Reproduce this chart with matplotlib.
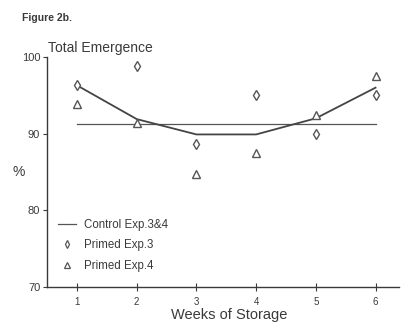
import matplotlib
matplotlib.use("Agg")
import matplotlib.pyplot as plt
from matplotlib.lines import Line2D

plt.rcParams['font.family'] = ['Liberation Sans', 'DejaVu Sans']

# Emergence (%) after each week of storage
weeks = [1, 2, 3, 4, 5, 6]
primed_exp3 = [96.3, 98.8, 88.7, 95.0, 89.9, 95.0]
primed_exp4 = [93.9, 91.4, 84.8, 87.5, 92.4, 97.5]
fitted = [96.3, 91.9, 89.9, 89.9, 92.0, 96.0]
control = 91.2

ink = '#3a3a3a'

fig = plt.figure(figsize=(4.01, 3.23), dpi=100)
ax = fig.add_axes([0.1176, 0.1115, 0.8784, 0.712])

# control level and fitted trend for primed seed
ax.plot([weeks[0], weeks[-1]], [control, control], color='#555555', lw=0.9)
ax.plot(weeks, fitted, color='#444444', lw=1.3)
ax.plot(weeks, primed_exp3, ls='none', marker='d', ms=4.8, mfc='white',
        mec='#555555', mew=1.0)
ax.plot(weeks, primed_exp4, ls='none', marker='^', ms=5.5, mfc='white',
        mec='#555555', mew=1.0)

ax.set_xlim(0.5, 6.4)
ax.set_ylim(70, 100)
ax.set_xticks(weeks)
ax.set_yticks([70, 80, 90, 100])
ax.spines['top'].set_visible(False)
ax.spines['right'].set_visible(False)
for s in ('left', 'bottom'):
    ax.spines[s].set_color(ink)
    ax.spines[s].set_linewidth(1.0)
ax.tick_params(axis='x', direction='inout', length=6, width=0.8, colors=ink,
               labelsize=7, pad=4)
ax.tick_params(axis='y', direction='out', length=3, width=0.8, colors=ink,
               labelsize=8, pad=2)

fig.text(0.571, 0.024, 'Weeks of Storage', fontsize=10.5, color=ink,
         ha='center', va='center')
fig.text(0.032, 0.468, '%', fontsize=10, color=ink, ha='left', va='center')
fig.text(0.119, 0.83, 'Total Emergence', fontsize=10, color=ink,
         ha='left', va='bottom')
fig.text(0.055, 0.93, 'Figure 2b.', fontsize=7.5, color=ink,
         ha='left', va='bottom', fontweight='bold')

handles = [
    Line2D([], [], color='#555555', lw=0.9),
    Line2D([], [], ls='none', marker='d', ms=4, mfc='white', mec='#555555', mew=0.9),
    Line2D([], [], ls='none', marker='^', ms=4, mfc='white', mec='#555555', mew=0.9),
]
labels = ['Control Exp.3&4', 'Primed Exp.3', 'Primed Exp.4']
ax.legend(handles, labels, loc='lower left', bbox_to_anchor=(0.0, 0.022),
          frameon=False, fontsize=8.3, handlelength=1.6, handletextpad=0.7,
          labelspacing=0.7, labelcolor=ink)

fig.savefig('out.png', dpi=100)
